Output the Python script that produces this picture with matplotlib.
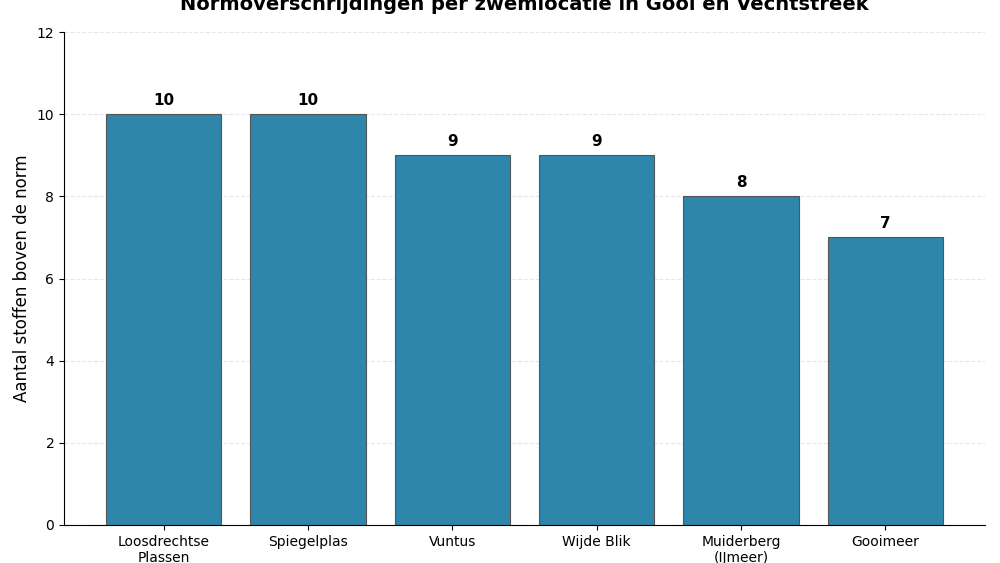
import matplotlib
matplotlib.use("Agg")
import matplotlib.pyplot as plt

locaties = ["Loosdrechtse\nPlassen", "Spiegelplas", "Vuntus", "Wijde Blik",
            "Muiderberg\n(IJmeer)", "Gooimeer"]
aantal = [10, 10, 9, 9, 8, 7]

fig, ax = plt.subplots(figsize=(10, 5.63), dpi=100)
fig.subplots_adjust(left=0.064, right=0.985, top=0.943, bottom=0.0675)

bars = ax.bar(locaties, aantal, color="#2E86AB", edgecolor="#555555", linewidth=0.8)
for b, v in zip(bars, aantal):
    ax.text(b.get_x() + b.get_width() / 2, v + 0.15, str(v),
            ha="center", va="bottom", fontsize=11, fontweight="bold")

ax.set_ylim(0, 12)
ax.set_yticks(range(0, 13, 2))
ax.set_ylabel("Aantal stoffen boven de norm", fontsize=12)
ax.set_title("Normoverschrijdingen per zwemlocatie in Gooi en Vechtstreek",
             fontsize=14, fontweight="bold", pad=16)
ax.grid(axis="y", linestyle="--", alpha=0.3)
ax.set_axisbelow(True)
ax.spines["top"].set_visible(False)
ax.spines["right"].set_visible(False)

fig.savefig("out.png", dpi=100)
